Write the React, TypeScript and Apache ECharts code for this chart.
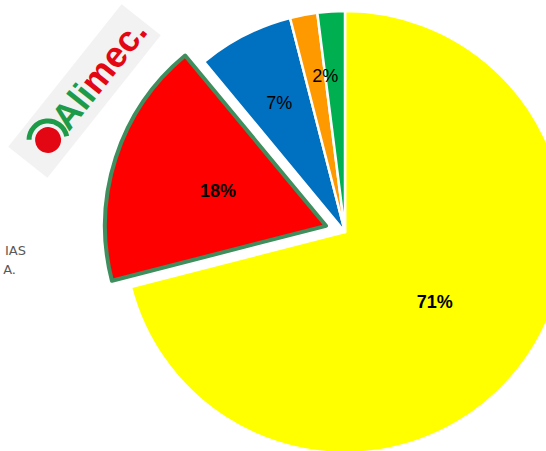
import React, { useEffect, useRef } from "react";
import * as echarts from "echarts";

// ---- data ----
const categories = ["Categoría A", "Categoría B", "Categoría C", "Categoría D", "Categoría E"];
const values = [71, 18, 7, 2, 2];
const sliceColors = ["#FFFF00", "#FF0000", "#0070C0", "#FF9900", "#00B050"];
const explodedIndex = 1;
const boldLabels = [true, true, false, false, false];
const showLabel = [true, true, true, true, false];
// label placement (fraction of slice span, fraction of radius); null = library default
const labelSpanFrac: (number | null)[] = [null, null, 0.5, 1.0, null];
const labelRadiusFrac: (number | null)[] = [null, null, 0.656, 0.71, null];
const sideTextLines = ["IAS", "A."];

// ---- layout ----
const W = 546;
const H = 451;
const CX = 345;
const CY = 232;
const R = 221;

export default function App() {
  const ref = useRef<HTMLDivElement>(null);

  useEffect(() => {
    if (!ref.current) return;
    const chart = echarts.init(ref.current, null, { renderer: "svg" });
    const total = values.reduce((a, b) => a + b, 0);
    const cum: number[] = [];
    let acc = 0;
    values.forEach((v) => {
      cum.push(acc);
      acc += v;
    });

    const data = values.map((v, i) => {
      const isEx = i === explodedIndex;
      const itemStyle: any = { color: sliceColors[i] };
      if (isEx) {
        itemStyle.borderColor = "#3E8E5E";
        itemStyle.borderWidth = 4;
      }
      const label: any = {
        show: showLabel[i],
        fontWeight: boldLabels[i] ? "bold" : "normal",
      };
      return {
        name: categories[i],
        value: v,
        selected: isEx,
        itemStyle,
        label,
        select: { itemStyle: { ...itemStyle }, label: { ...label } },
      };
    });

    const G = "#1E9B48";
    const RED = "#E30613";
    const rot = (51.5 * Math.PI) / 180;

    chart.setOption({
      animation: false,
      backgroundColor: "#FFFFFF",
      series: [
        {
          type: "pie",
          center: [CX, CY],
          radius: R,
          startAngle: 90,
          clockwise: true,
          selectedMode: "single",
          selectedOffset: 20,
          avoidLabelOverlap: false,
          emphasis: { disabled: true },
          itemStyle: { borderColor: "#FFFFFF", borderWidth: 2.5 },
          label: {
            show: true,
            position: "inside",
            color: "#000000",
            fontSize: 18,
            fontFamily: "Liberation Sans",
            formatter: (p: any) => Math.round(p.percent) + "%",
          },
          labelLine: { show: false },
          labelLayout: (p: any) => {
            const i = p.dataIndex;
            const sf = labelSpanFrac[i];
            const rf = labelRadiusFrac[i];
            if (sf == null || rf == null) return {};
            const frac = (cum[i] + values[i] * sf) / total;
            const ang = frac * Math.PI * 2;
            return {
              x: CX + R * rf * Math.sin(ang),
              y: CY - R * rf * Math.cos(ang),
            };
          },
          data,
        },
      ],
      graphic: [
        {
          type: "group",
          x: 84.5,
          y: 91,
          rotation: rot,
          children: [
            {
              type: "rect",
              shape: { x: -91, y: -25, width: 182, height: 50 },
              style: { fill: "#F2F2F2" },
            },
            {
              type: "arc",
              shape: {
                cx: -61,
                cy: 2,
                r: 19,
                startAngle: (232 * Math.PI) / 180,
                endAngle: (400 * Math.PI) / 180,
                clockwise: true,
              },
              style: { stroke: G, lineWidth: 5, fill: null },
            },
            {
              type: "circle",
              shape: { cx: -61, cy: 2, r: 13 },
              style: { fill: RED },
            },
            {
              type: "text",
              x: 22,
              y: 1,
              style: {
                text: "{g|Ali}{r|mec.}",
                align: "center",
                verticalAlign: "middle",
                rich: {
                  g: { fill: G, fontSize: 36, fontWeight: "bold", fontFamily: "Liberation Sans" },
                  r: { fill: RED, fontSize: 36, fontWeight: "bold", fontFamily: "Liberation Sans" },
                },
              },
            },
          ],
        },
        {
          type: "text",
          x: 26,
          y: 250,
          style: {
            text: sideTextLines[0],
            align: "right",
            verticalAlign: "middle",
            fill: "#595959",
            fontSize: 13,
            fontFamily: "DejaVu Sans",
          },
        },
        {
          type: "text",
          x: 16,
          y: 269,
          style: {
            text: sideTextLines[1],
            align: "right",
            verticalAlign: "middle",
            fill: "#595959",
            fontSize: 13,
            fontFamily: "DejaVu Sans",
          },
        },
      ],
    });

    return () => chart.dispose();
  }, []);

  return (
    <div
      ref={ref}
      style={{ position: "absolute", left: 0, top: 0, width: W, height: H, overflow: "hidden" }}
    />
  );
}
